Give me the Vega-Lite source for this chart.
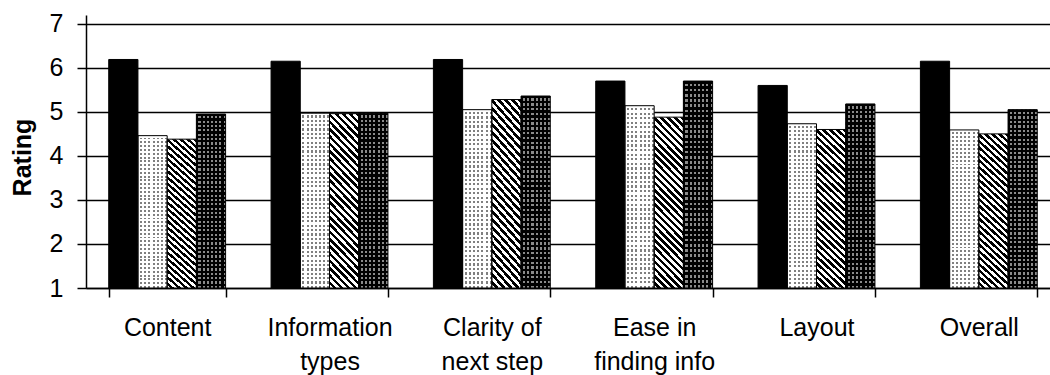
{
  "$schema": "https://vega.github.io/schema/vega-lite/v6.json",
  "autosize": {"type": "none"},
  "padding": {"left": 86, "top": 15, "right": 0, "bottom": 87},
  "width": 964,
  "height": 273,
  "background": "white",
  "config": {"view": {"stroke": null}, "font": "Liberation Sans"},
  "data": {
    "values": [
      {"category": "Content", "series": "Series 1", "rating": 6.19},
      {"category": "Content", "series": "Series 2", "rating": 4.46},
      {"category": "Content", "series": "Series 3", "rating": 4.38},
      {"category": "Content", "series": "Series 4", "rating": 4.95},
      {"category": "Information types", "series": "Series 1", "rating": 6.15},
      {"category": "Information types", "series": "Series 2", "rating": 4.97},
      {"category": "Information types", "series": "Series 3", "rating": 4.96},
      {"category": "Information types", "series": "Series 4", "rating": 4.97},
      {"category": "Clarity of next step", "series": "Series 1", "rating": 6.19},
      {"category": "Clarity of next step", "series": "Series 2", "rating": 5.05},
      {"category": "Clarity of next step", "series": "Series 3", "rating": 5.28},
      {"category": "Clarity of next step", "series": "Series 4", "rating": 5.36},
      {"category": "Ease in finding info", "series": "Series 1", "rating": 5.7},
      {"category": "Ease in finding info", "series": "Series 2", "rating": 5.14},
      {"category": "Ease in finding info", "series": "Series 3", "rating": 4.88},
      {"category": "Ease in finding info", "series": "Series 4", "rating": 5.7},
      {"category": "Layout", "series": "Series 1", "rating": 5.6},
      {"category": "Layout", "series": "Series 2", "rating": 4.73},
      {"category": "Layout", "series": "Series 3", "rating": 4.6},
      {"category": "Layout", "series": "Series 4", "rating": 5.18},
      {"category": "Overall", "series": "Series 1", "rating": 6.15},
      {"category": "Overall", "series": "Series 2", "rating": 4.59},
      {"category": "Overall", "series": "Series 3", "rating": 4.5},
      {"category": "Overall", "series": "Series 4", "rating": 5.05}
    ]
  },
  "encoding": {
    "x": {
      "field": "category",
      "type": "nominal",
      "sort": null,
      "scale": {"range": [0, 974], "paddingInner": 0.28, "paddingOuter": 0.14},
      "axis": {
        "title": null,
        "tickBand": "extent",
        "labelAngle": 0,
        "labelFontSize": 25,
        "labelLineHeight": 34,
        "labelPadding": 18,
        "labelColor": "#000",
        "labelExpr": "datum.value == 'Information types' ? ['Information', 'types'] : datum.value == 'Clarity of next step' ? ['Clarity of', 'next step'] : datum.value == 'Ease in finding info' ? ['Ease in', 'finding info'] : datum.value",
        "tickSize": 9,
        "tickWidth": 1.5,
        "tickColor": "#000",
        "domainColor": "#000",
        "domainWidth": 1.5,
        "grid": false
      }
    },
    "xOffset": {
      "field": "series",
      "type": "nominal",
      "sort": null,
      "scale": {"paddingInner": 0, "paddingOuter": 0}
    },
    "y": {
      "field": "rating",
      "type": "quantitative",
      "scale": {"domain": [1, 7.2], "zero": false, "nice": false},
      "axis": {
        "title": "Rating",
        "values": [1, 2, 3, 4, 5, 6, 7],
        "grid": true,
        "gridColor": "#000",
        "gridWidth": 1.5,
        "domainColor": "#000",
        "domainWidth": 1.5,
        "tickColor": "#000",
        "tickSize": 9,
        "tickWidth": 1.5,
        "labelFontSize": 25,
        "labelColor": "#000",
        "labelPadding": 14,
        "titleFontSize": 25,
        "titleFontWeight": "bold",
        "titleColor": "#000",
        "titlePadding": 14,
        "titleY": 142
      }
    },
    "y2": {"datum": 1}
  },
  "layer": [
    {
      "mark": {"type": "bar", "strokeWidth": 0},
      "encoding": {
        "fill": {
          "condition": [
            {"test": "datum.series == 'Series 1'", "value": "#000000"},
            {"test": "datum.series == 'Series 2'", "value": "#808080"},
            {"test": "datum.series == 'Series 3'", "value": {
              "gradient": "linear", "x1": 1, "y1": 0, "x2": 0.8009, "y2": 1.1399,
              "stops": [
                {"offset": 0.0000, "color": "#000"}, {"offset": 0.0179, "color": "#000"}, {"offset": 0.0179, "color": "#fff"}, {"offset": 0.0357, "color": "#fff"},
                {"offset": 0.0357, "color": "#000"}, {"offset": 0.0536, "color": "#000"}, {"offset": 0.0536, "color": "#fff"}, {"offset": 0.0714, "color": "#fff"},
                {"offset": 0.0714, "color": "#000"}, {"offset": 0.0893, "color": "#000"}, {"offset": 0.0893, "color": "#fff"}, {"offset": 0.1071, "color": "#fff"},
                {"offset": 0.1071, "color": "#000"}, {"offset": 0.1250, "color": "#000"}, {"offset": 0.1250, "color": "#fff"}, {"offset": 0.1429, "color": "#fff"},
                {"offset": 0.1429, "color": "#000"}, {"offset": 0.1607, "color": "#000"}, {"offset": 0.1607, "color": "#fff"}, {"offset": 0.1786, "color": "#fff"},
                {"offset": 0.1786, "color": "#000"}, {"offset": 0.1964, "color": "#000"}, {"offset": 0.1964, "color": "#fff"}, {"offset": 0.2143, "color": "#fff"},
                {"offset": 0.2143, "color": "#000"}, {"offset": 0.2321, "color": "#000"}, {"offset": 0.2321, "color": "#fff"}, {"offset": 0.2500, "color": "#fff"},
                {"offset": 0.2500, "color": "#000"}, {"offset": 0.2679, "color": "#000"}, {"offset": 0.2679, "color": "#fff"}, {"offset": 0.2857, "color": "#fff"},
                {"offset": 0.2857, "color": "#000"}, {"offset": 0.3036, "color": "#000"}, {"offset": 0.3036, "color": "#fff"}, {"offset": 0.3214, "color": "#fff"},
                {"offset": 0.3214, "color": "#000"}, {"offset": 0.3393, "color": "#000"}, {"offset": 0.3393, "color": "#fff"}, {"offset": 0.3571, "color": "#fff"},
                {"offset": 0.3571, "color": "#000"}, {"offset": 0.3750, "color": "#000"}, {"offset": 0.3750, "color": "#fff"}, {"offset": 0.3929, "color": "#fff"},
                {"offset": 0.3929, "color": "#000"}, {"offset": 0.4107, "color": "#000"}, {"offset": 0.4107, "color": "#fff"}, {"offset": 0.4286, "color": "#fff"},
                {"offset": 0.4286, "color": "#000"}, {"offset": 0.4464, "color": "#000"}, {"offset": 0.4464, "color": "#fff"}, {"offset": 0.4643, "color": "#fff"},
                {"offset": 0.4643, "color": "#000"}, {"offset": 0.4821, "color": "#000"}, {"offset": 0.4821, "color": "#fff"}, {"offset": 0.5000, "color": "#fff"},
                {"offset": 0.5000, "color": "#000"}, {"offset": 0.5179, "color": "#000"}, {"offset": 0.5179, "color": "#fff"}, {"offset": 0.5357, "color": "#fff"},
                {"offset": 0.5357, "color": "#000"}, {"offset": 0.5536, "color": "#000"}, {"offset": 0.5536, "color": "#fff"}, {"offset": 0.5714, "color": "#fff"},
                {"offset": 0.5714, "color": "#000"}, {"offset": 0.5893, "color": "#000"}, {"offset": 0.5893, "color": "#fff"}, {"offset": 0.6071, "color": "#fff"},
                {"offset": 0.6071, "color": "#000"}, {"offset": 0.6250, "color": "#000"}, {"offset": 0.6250, "color": "#fff"}, {"offset": 0.6429, "color": "#fff"},
                {"offset": 0.6429, "color": "#000"}, {"offset": 0.6607, "color": "#000"}, {"offset": 0.6607, "color": "#fff"}, {"offset": 0.6786, "color": "#fff"},
                {"offset": 0.6786, "color": "#000"}, {"offset": 0.6964, "color": "#000"}, {"offset": 0.6964, "color": "#fff"}, {"offset": 0.7143, "color": "#fff"},
                {"offset": 0.7143, "color": "#000"}, {"offset": 0.7321, "color": "#000"}, {"offset": 0.7321, "color": "#fff"}, {"offset": 0.7500, "color": "#fff"},
                {"offset": 0.7500, "color": "#000"}, {"offset": 0.7679, "color": "#000"}, {"offset": 0.7679, "color": "#fff"}, {"offset": 0.7857, "color": "#fff"},
                {"offset": 0.7857, "color": "#000"}, {"offset": 0.8036, "color": "#000"}, {"offset": 0.8036, "color": "#fff"}, {"offset": 0.8214, "color": "#fff"},
                {"offset": 0.8214, "color": "#000"}, {"offset": 0.8393, "color": "#000"}, {"offset": 0.8393, "color": "#fff"}, {"offset": 0.8571, "color": "#fff"},
                {"offset": 0.8571, "color": "#000"}, {"offset": 0.8750, "color": "#000"}, {"offset": 0.8750, "color": "#fff"}, {"offset": 0.8929, "color": "#fff"},
                {"offset": 0.8929, "color": "#000"}, {"offset": 0.9107, "color": "#000"}, {"offset": 0.9107, "color": "#fff"}, {"offset": 0.9286, "color": "#fff"},
                {"offset": 0.9286, "color": "#000"}, {"offset": 0.9464, "color": "#000"}, {"offset": 0.9464, "color": "#fff"}, {"offset": 0.9643, "color": "#fff"},
                {"offset": 0.9643, "color": "#000"}, {"offset": 0.9821, "color": "#000"}, {"offset": 0.9821, "color": "#fff"}, {"offset": 1.0000, "color": "#fff"}
              ]
            }},
            {"test": "datum.series == 'Series 4'", "value": "#8a8a8a"}
          ],
          "value": "#000000"
        }
      }
    },
    {
      "transform": [{"filter": "datum.series == 'Series 2' || datum.series == 'Series 4'"}],
      "mark": {"type": "bar", "strokeWidth": 0},
      "encoding": {
        "fill": {
          "condition": {"test": "datum.series == 'Series 2'", "value": {
            "gradient": "linear", "x1": 0, "y1": 0, "x2": 0, "y2": 1,
            "stops": [
              {"offset": 0.0000, "color": "#fff"}, {"offset": 0.0125, "color": "#fff"}, {"offset": 0.0125, "color": "rgba(255,255,255,0)"}, {"offset": 0.0250, "color": "rgba(255,255,255,0)"},
              {"offset": 0.0250, "color": "#fff"}, {"offset": 0.0375, "color": "#fff"}, {"offset": 0.0375, "color": "rgba(255,255,255,0)"}, {"offset": 0.0500, "color": "rgba(255,255,255,0)"},
              {"offset": 0.0500, "color": "#fff"}, {"offset": 0.0625, "color": "#fff"}, {"offset": 0.0625, "color": "rgba(255,255,255,0)"}, {"offset": 0.0750, "color": "rgba(255,255,255,0)"},
              {"offset": 0.0750, "color": "#fff"}, {"offset": 0.0875, "color": "#fff"}, {"offset": 0.0875, "color": "rgba(255,255,255,0)"}, {"offset": 0.1000, "color": "rgba(255,255,255,0)"},
              {"offset": 0.1000, "color": "#fff"}, {"offset": 0.1125, "color": "#fff"}, {"offset": 0.1125, "color": "rgba(255,255,255,0)"}, {"offset": 0.1250, "color": "rgba(255,255,255,0)"},
              {"offset": 0.1250, "color": "#fff"}, {"offset": 0.1375, "color": "#fff"}, {"offset": 0.1375, "color": "rgba(255,255,255,0)"}, {"offset": 0.1500, "color": "rgba(255,255,255,0)"},
              {"offset": 0.1500, "color": "#fff"}, {"offset": 0.1625, "color": "#fff"}, {"offset": 0.1625, "color": "rgba(255,255,255,0)"}, {"offset": 0.1750, "color": "rgba(255,255,255,0)"},
              {"offset": 0.1750, "color": "#fff"}, {"offset": 0.1875, "color": "#fff"}, {"offset": 0.1875, "color": "rgba(255,255,255,0)"}, {"offset": 0.2000, "color": "rgba(255,255,255,0)"},
              {"offset": 0.2000, "color": "#fff"}, {"offset": 0.2125, "color": "#fff"}, {"offset": 0.2125, "color": "rgba(255,255,255,0)"}, {"offset": 0.2250, "color": "rgba(255,255,255,0)"},
              {"offset": 0.2250, "color": "#fff"}, {"offset": 0.2375, "color": "#fff"}, {"offset": 0.2375, "color": "rgba(255,255,255,0)"}, {"offset": 0.2500, "color": "rgba(255,255,255,0)"},
              {"offset": 0.2500, "color": "#fff"}, {"offset": 0.2625, "color": "#fff"}, {"offset": 0.2625, "color": "rgba(255,255,255,0)"}, {"offset": 0.2750, "color": "rgba(255,255,255,0)"},
              {"offset": 0.2750, "color": "#fff"}, {"offset": 0.2875, "color": "#fff"}, {"offset": 0.2875, "color": "rgba(255,255,255,0)"}, {"offset": 0.3000, "color": "rgba(255,255,255,0)"},
              {"offset": 0.3000, "color": "#fff"}, {"offset": 0.3125, "color": "#fff"}, {"offset": 0.3125, "color": "rgba(255,255,255,0)"}, {"offset": 0.3250, "color": "rgba(255,255,255,0)"},
              {"offset": 0.3250, "color": "#fff"}, {"offset": 0.3375, "color": "#fff"}, {"offset": 0.3375, "color": "rgba(255,255,255,0)"}, {"offset": 0.3500, "color": "rgba(255,255,255,0)"},
              {"offset": 0.3500, "color": "#fff"}, {"offset": 0.3625, "color": "#fff"}, {"offset": 0.3625, "color": "rgba(255,255,255,0)"}, {"offset": 0.3750, "color": "rgba(255,255,255,0)"},
              {"offset": 0.3750, "color": "#fff"}, {"offset": 0.3875, "color": "#fff"}, {"offset": 0.3875, "color": "rgba(255,255,255,0)"}, {"offset": 0.4000, "color": "rgba(255,255,255,0)"},
              {"offset": 0.4000, "color": "#fff"}, {"offset": 0.4125, "color": "#fff"}, {"offset": 0.4125, "color": "rgba(255,255,255,0)"}, {"offset": 0.4250, "color": "rgba(255,255,255,0)"},
              {"offset": 0.4250, "color": "#fff"}, {"offset": 0.4375, "color": "#fff"}, {"offset": 0.4375, "color": "rgba(255,255,255,0)"}, {"offset": 0.4500, "color": "rgba(255,255,255,0)"},
              {"offset": 0.4500, "color": "#fff"}, {"offset": 0.4625, "color": "#fff"}, {"offset": 0.4625, "color": "rgba(255,255,255,0)"}, {"offset": 0.4750, "color": "rgba(255,255,255,0)"},
              {"offset": 0.4750, "color": "#fff"}, {"offset": 0.4875, "color": "#fff"}, {"offset": 0.4875, "color": "rgba(255,255,255,0)"}, {"offset": 0.5000, "color": "rgba(255,255,255,0)"},
              {"offset": 0.5000, "color": "#fff"}, {"offset": 0.5125, "color": "#fff"}, {"offset": 0.5125, "color": "rgba(255,255,255,0)"}, {"offset": 0.5250, "color": "rgba(255,255,255,0)"},
              {"offset": 0.5250, "color": "#fff"}, {"offset": 0.5375, "color": "#fff"}, {"offset": 0.5375, "color": "rgba(255,255,255,0)"}, {"offset": 0.5500, "color": "rgba(255,255,255,0)"},
              {"offset": 0.5500, "color": "#fff"}, {"offset": 0.5625, "color": "#fff"}, {"offset": 0.5625, "color": "rgba(255,255,255,0)"}, {"offset": 0.5750, "color": "rgba(255,255,255,0)"},
              {"offset": 0.5750, "color": "#fff"}, {"offset": 0.5875, "color": "#fff"}, {"offset": 0.5875, "color": "rgba(255,255,255,0)"}, {"offset": 0.6000, "color": "rgba(255,255,255,0)"},
              {"offset": 0.6000, "color": "#fff"}, {"offset": 0.6125, "color": "#fff"}, {"offset": 0.6125, "color": "rgba(255,255,255,0)"}, {"offset": 0.6250, "color": "rgba(255,255,255,0)"},
              {"offset": 0.6250, "color": "#fff"}, {"offset": 0.6375, "color": "#fff"}, {"offset": 0.6375, "color": "rgba(255,255,255,0)"}, {"offset": 0.6500, "color": "rgba(255,255,255,0)"},
              {"offset": 0.6500, "color": "#fff"}, {"offset": 0.6625, "color": "#fff"}, {"offset": 0.6625, "color": "rgba(255,255,255,0)"}, {"offset": 0.6750, "color": "rgba(255,255,255,0)"},
              {"offset": 0.6750, "color": "#fff"}, {"offset": 0.6875, "color": "#fff"}, {"offset": 0.6875, "color": "rgba(255,255,255,0)"}, {"offset": 0.7000, "color": "rgba(255,255,255,0)"},
              {"offset": 0.7000, "color": "#fff"}, {"offset": 0.7125, "color": "#fff"}, {"offset": 0.7125, "color": "rgba(255,255,255,0)"}, {"offset": 0.7250, "color": "rgba(255,255,255,0)"},
              {"offset": 0.7250, "color": "#fff"}, {"offset": 0.7375, "color": "#fff"}, {"offset": 0.7375, "color": "rgba(255,255,255,0)"}, {"offset": 0.7500, "color": "rgba(255,255,255,0)"},
              {"offset": 0.7500, "color": "#fff"}, {"offset": 0.7625, "color": "#fff"}, {"offset": 0.7625, "color": "rgba(255,255,255,0)"}, {"offset": 0.7750, "color": "rgba(255,255,255,0)"},
              {"offset": 0.7750, "color": "#fff"}, {"offset": 0.7875, "color": "#fff"}, {"offset": 0.7875, "color": "rgba(255,255,255,0)"}, {"offset": 0.8000, "color": "rgba(255,255,255,0)"},
              {"offset": 0.8000, "color": "#fff"}, {"offset": 0.8125, "color": "#fff"}, {"offset": 0.8125, "color": "rgba(255,255,255,0)"}, {"offset": 0.8250, "color": "rgba(255,255,255,0)"},
              {"offset": 0.8250, "color": "#fff"}, {"offset": 0.8375, "color": "#fff"}, {"offset": 0.8375, "color": "rgba(255,255,255,0)"}, {"offset": 0.8500, "color": "rgba(255,255,255,0)"},
              {"offset": 0.8500, "color": "#fff"}, {"offset": 0.8625, "color": "#fff"}, {"offset": 0.8625, "color": "rgba(255,255,255,0)"}, {"offset": 0.8750, "color": "rgba(255,255,255,0)"},
              {"offset": 0.8750, "color": "#fff"}, {"offset": 0.8875, "color": "#fff"}, {"offset": 0.8875, "color": "rgba(255,255,255,0)"}, {"offset": 0.9000, "color": "rgba(255,255,255,0)"},
              {"offset": 0.9000, "color": "#fff"}, {"offset": 0.9125, "color": "#fff"}, {"offset": 0.9125, "color": "rgba(255,255,255,0)"}, {"offset": 0.9250, "color": "rgba(255,255,255,0)"},
              {"offset": 0.9250, "color": "#fff"}, {"offset": 0.9375, "color": "#fff"}, {"offset": 0.9375, "color": "rgba(255,255,255,0)"}, {"offset": 0.9500, "color": "rgba(255,255,255,0)"},
              {"offset": 0.9500, "color": "#fff"}, {"offset": 0.9625, "color": "#fff"}, {"offset": 0.9625, "color": "rgba(255,255,255,0)"}, {"offset": 0.9750, "color": "rgba(255,255,255,0)"},
              {"offset": 0.9750, "color": "#fff"}, {"offset": 0.9875, "color": "#fff"}, {"offset": 0.9875, "color": "rgba(255,255,255,0)"}, {"offset": 1.0000, "color": "rgba(255,255,255,0)"}
            ]
          }},
          "value": {
            "gradient": "linear", "x1": 0, "y1": 0, "x2": 0, "y2": 1,
            "stops": [
              {"offset": 0.0000, "color": "#000"}, {"offset": 0.0125, "color": "#000"}, {"offset": 0.0125, "color": "rgba(0,0,0,0)"}, {"offset": 0.0250, "color": "rgba(0,0,0,0)"},
              {"offset": 0.0250, "color": "#000"}, {"offset": 0.0375, "color": "#000"}, {"offset": 0.0375, "color": "rgba(0,0,0,0)"}, {"offset": 0.0500, "color": "rgba(0,0,0,0)"},
              {"offset": 0.0500, "color": "#000"}, {"offset": 0.0625, "color": "#000"}, {"offset": 0.0625, "color": "rgba(0,0,0,0)"}, {"offset": 0.0750, "color": "rgba(0,0,0,0)"},
              {"offset": 0.0750, "color": "#000"}, {"offset": 0.0875, "color": "#000"}, {"offset": 0.0875, "color": "rgba(0,0,0,0)"}, {"offset": 0.1000, "color": "rgba(0,0,0,0)"},
              {"offset": 0.1000, "color": "#000"}, {"offset": 0.1125, "color": "#000"}, {"offset": 0.1125, "color": "rgba(0,0,0,0)"}, {"offset": 0.1250, "color": "rgba(0,0,0,0)"},
              {"offset": 0.1250, "color": "#000"}, {"offset": 0.1375, "color": "#000"}, {"offset": 0.1375, "color": "rgba(0,0,0,0)"}, {"offset": 0.1500, "color": "rgba(0,0,0,0)"},
              {"offset": 0.1500, "color": "#000"}, {"offset": 0.1625, "color": "#000"}, {"offset": 0.1625, "color": "rgba(0,0,0,0)"}, {"offset": 0.1750, "color": "rgba(0,0,0,0)"},
              {"offset": 0.1750, "color": "#000"}, {"offset": 0.1875, "color": "#000"}, {"offset": 0.1875, "color": "rgba(0,0,0,0)"}, {"offset": 0.2000, "color": "rgba(0,0,0,0)"},
              {"offset": 0.2000, "color": "#000"}, {"offset": 0.2125, "color": "#000"}, {"offset": 0.2125, "color": "rgba(0,0,0,0)"}, {"offset": 0.2250, "color": "rgba(0,0,0,0)"},
              {"offset": 0.2250, "color": "#000"}, {"offset": 0.2375, "color": "#000"}, {"offset": 0.2375, "color": "rgba(0,0,0,0)"}, {"offset": 0.2500, "color": "rgba(0,0,0,0)"},
              {"offset": 0.2500, "color": "#000"}, {"offset": 0.2625, "color": "#000"}, {"offset": 0.2625, "color": "rgba(0,0,0,0)"}, {"offset": 0.2750, "color": "rgba(0,0,0,0)"},
              {"offset": 0.2750, "color": "#000"}, {"offset": 0.2875, "color": "#000"}, {"offset": 0.2875, "color": "rgba(0,0,0,0)"}, {"offset": 0.3000, "color": "rgba(0,0,0,0)"},
              {"offset": 0.3000, "color": "#000"}, {"offset": 0.3125, "color": "#000"}, {"offset": 0.3125, "color": "rgba(0,0,0,0)"}, {"offset": 0.3250, "color": "rgba(0,0,0,0)"},
              {"offset": 0.3250, "color": "#000"}, {"offset": 0.3375, "color": "#000"}, {"offset": 0.3375, "color": "rgba(0,0,0,0)"}, {"offset": 0.3500, "color": "rgba(0,0,0,0)"},
              {"offset": 0.3500, "color": "#000"}, {"offset": 0.3625, "color": "#000"}, {"offset": 0.3625, "color": "rgba(0,0,0,0)"}, {"offset": 0.3750, "color": "rgba(0,0,0,0)"},
              {"offset": 0.3750, "color": "#000"}, {"offset": 0.3875, "color": "#000"}, {"offset": 0.3875, "color": "rgba(0,0,0,0)"}, {"offset": 0.4000, "color": "rgba(0,0,0,0)"},
              {"offset": 0.4000, "color": "#000"}, {"offset": 0.4125, "color": "#000"}, {"offset": 0.4125, "color": "rgba(0,0,0,0)"}, {"offset": 0.4250, "color": "rgba(0,0,0,0)"},
              {"offset": 0.4250, "color": "#000"}, {"offset": 0.4375, "color": "#000"}, {"offset": 0.4375, "color": "rgba(0,0,0,0)"}, {"offset": 0.4500, "color": "rgba(0,0,0,0)"},
              {"offset": 0.4500, "color": "#000"}, {"offset": 0.4625, "color": "#000"}, {"offset": 0.4625, "color": "rgba(0,0,0,0)"}, {"offset": 0.4750, "color": "rgba(0,0,0,0)"},
              {"offset": 0.4750, "color": "#000"}, {"offset": 0.4875, "color": "#000"}, {"offset": 0.4875, "color": "rgba(0,0,0,0)"}, {"offset": 0.5000, "color": "rgba(0,0,0,0)"},
              {"offset": 0.5000, "color": "#000"}, {"offset": 0.5125, "color": "#000"}, {"offset": 0.5125, "color": "rgba(0,0,0,0)"}, {"offset": 0.5250, "color": "rgba(0,0,0,0)"},
              {"offset": 0.5250, "color": "#000"}, {"offset": 0.5375, "color": "#000"}, {"offset": 0.5375, "color": "rgba(0,0,0,0)"}, {"offset": 0.5500, "color": "rgba(0,0,0,0)"},
              {"offset": 0.5500, "color": "#000"}, {"offset": 0.5625, "color": "#000"}, {"offset": 0.5625, "color": "rgba(0,0,0,0)"}, {"offset": 0.5750, "color": "rgba(0,0,0,0)"},
              {"offset": 0.5750, "color": "#000"}, {"offset": 0.5875, "color": "#000"}, {"offset": 0.5875, "color": "rgba(0,0,0,0)"}, {"offset": 0.6000, "color": "rgba(0,0,0,0)"},
              {"offset": 0.6000, "color": "#000"}, {"offset": 0.6125, "color": "#000"}, {"offset": 0.6125, "color": "rgba(0,0,0,0)"}, {"offset": 0.6250, "color": "rgba(0,0,0,0)"},
              {"offset": 0.6250, "color": "#000"}, {"offset": 0.6375, "color": "#000"}, {"offset": 0.6375, "color": "rgba(0,0,0,0)"}, {"offset": 0.6500, "color": "rgba(0,0,0,0)"},
              {"offset": 0.6500, "color": "#000"}, {"offset": 0.6625, "color": "#000"}, {"offset": 0.6625, "color": "rgba(0,0,0,0)"}, {"offset": 0.6750, "color": "rgba(0,0,0,0)"},
              {"offset": 0.6750, "color": "#000"}, {"offset": 0.6875, "color": "#000"}, {"offset": 0.6875, "color": "rgba(0,0,0,0)"}, {"offset": 0.7000, "color": "rgba(0,0,0,0)"},
              {"offset": 0.7000, "color": "#000"}, {"offset": 0.7125, "color": "#000"}, {"offset": 0.7125, "color": "rgba(0,0,0,0)"}, {"offset": 0.7250, "color": "rgba(0,0,0,0)"},
              {"offset": 0.7250, "color": "#000"}, {"offset": 0.7375, "color": "#000"}, {"offset": 0.7375, "color": "rgba(0,0,0,0)"}, {"offset": 0.7500, "color": "rgba(0,0,0,0)"},
              {"offset": 0.7500, "color": "#000"}, {"offset": 0.7625, "color": "#000"}, {"offset": 0.7625, "color": "rgba(0,0,0,0)"}, {"offset": 0.7750, "color": "rgba(0,0,0,0)"},
              {"offset": 0.7750, "color": "#000"}, {"offset": 0.7875, "color": "#000"}, {"offset": 0.7875, "color": "rgba(0,0,0,0)"}, {"offset": 0.8000, "color": "rgba(0,0,0,0)"},
              {"offset": 0.8000, "color": "#000"}, {"offset": 0.8125, "color": "#000"}, {"offset": 0.8125, "color": "rgba(0,0,0,0)"}, {"offset": 0.8250, "color": "rgba(0,0,0,0)"},
              {"offset": 0.8250, "color": "#000"}, {"offset": 0.8375, "color": "#000"}, {"offset": 0.8375, "color": "rgba(0,0,0,0)"}, {"offset": 0.8500, "color": "rgba(0,0,0,0)"},
              {"offset": 0.8500, "color": "#000"}, {"offset": 0.8625, "color": "#000"}, {"offset": 0.8625, "color": "rgba(0,0,0,0)"}, {"offset": 0.8750, "color": "rgba(0,0,0,0)"},
              {"offset": 0.8750, "color": "#000"}, {"offset": 0.8875, "color": "#000"}, {"offset": 0.8875, "color": "rgba(0,0,0,0)"}, {"offset": 0.9000, "color": "rgba(0,0,0,0)"},
              {"offset": 0.9000, "color": "#000"}, {"offset": 0.9125, "color": "#000"}, {"offset": 0.9125, "color": "rgba(0,0,0,0)"}, {"offset": 0.9250, "color": "rgba(0,0,0,0)"},
              {"offset": 0.9250, "color": "#000"}, {"offset": 0.9375, "color": "#000"}, {"offset": 0.9375, "color": "rgba(0,0,0,0)"}, {"offset": 0.9500, "color": "rgba(0,0,0,0)"},
              {"offset": 0.9500, "color": "#000"}, {"offset": 0.9625, "color": "#000"}, {"offset": 0.9625, "color": "rgba(0,0,0,0)"}, {"offset": 0.9750, "color": "rgba(0,0,0,0)"},
              {"offset": 0.9750, "color": "#000"}, {"offset": 0.9875, "color": "#000"}, {"offset": 0.9875, "color": "rgba(0,0,0,0)"}, {"offset": 1.0000, "color": "rgba(0,0,0,0)"}
            ]
          }
        }
      }
    },
    {
      "transform": [{"filter": "datum.series == 'Series 2' || datum.series == 'Series 4'"}],
      "mark": {"type": "bar", "strokeWidth": 0},
      "encoding": {
        "fill": {
          "condition": {"test": "datum.series == 'Series 2'", "value": {
            "gradient": "linear", "x1": 0, "y1": 0, "x2": 1, "y2": 0,
            "stops": [
              {"offset": 0.0000, "color": "#fff"}, {"offset": 0.0714, "color": "#fff"}, {"offset": 0.0714, "color": "rgba(255,255,255,0)"}, {"offset": 0.1429, "color": "rgba(255,255,255,0)"},
              {"offset": 0.1429, "color": "#fff"}, {"offset": 0.2143, "color": "#fff"}, {"offset": 0.2143, "color": "rgba(255,255,255,0)"}, {"offset": 0.2857, "color": "rgba(255,255,255,0)"},
              {"offset": 0.2857, "color": "#fff"}, {"offset": 0.3571, "color": "#fff"}, {"offset": 0.3571, "color": "rgba(255,255,255,0)"}, {"offset": 0.4286, "color": "rgba(255,255,255,0)"},
              {"offset": 0.4286, "color": "#fff"}, {"offset": 0.5000, "color": "#fff"}, {"offset": 0.5000, "color": "rgba(255,255,255,0)"}, {"offset": 0.5714, "color": "rgba(255,255,255,0)"},
              {"offset": 0.5714, "color": "#fff"}, {"offset": 0.6429, "color": "#fff"}, {"offset": 0.6429, "color": "rgba(255,255,255,0)"}, {"offset": 0.7143, "color": "rgba(255,255,255,0)"},
              {"offset": 0.7143, "color": "#fff"}, {"offset": 0.7857, "color": "#fff"}, {"offset": 0.7857, "color": "rgba(255,255,255,0)"}, {"offset": 0.8571, "color": "rgba(255,255,255,0)"},
              {"offset": 0.8571, "color": "#fff"}, {"offset": 0.9286, "color": "#fff"}, {"offset": 0.9286, "color": "rgba(255,255,255,0)"}, {"offset": 1.0000, "color": "rgba(255,255,255,0)"}
            ]
          }},
          "value": {
            "gradient": "linear", "x1": 0, "y1": 0, "x2": 1, "y2": 0,
            "stops": [
              {"offset": 0.0000, "color": "#000"}, {"offset": 0.0714, "color": "#000"}, {"offset": 0.0714, "color": "rgba(0,0,0,0)"}, {"offset": 0.1429, "color": "rgba(0,0,0,0)"},
              {"offset": 0.1429, "color": "#000"}, {"offset": 0.2143, "color": "#000"}, {"offset": 0.2143, "color": "rgba(0,0,0,0)"}, {"offset": 0.2857, "color": "rgba(0,0,0,0)"},
              {"offset": 0.2857, "color": "#000"}, {"offset": 0.3571, "color": "#000"}, {"offset": 0.3571, "color": "rgba(0,0,0,0)"}, {"offset": 0.4286, "color": "rgba(0,0,0,0)"},
              {"offset": 0.4286, "color": "#000"}, {"offset": 0.5000, "color": "#000"}, {"offset": 0.5000, "color": "rgba(0,0,0,0)"}, {"offset": 0.5714, "color": "rgba(0,0,0,0)"},
              {"offset": 0.5714, "color": "#000"}, {"offset": 0.6429, "color": "#000"}, {"offset": 0.6429, "color": "rgba(0,0,0,0)"}, {"offset": 0.7143, "color": "rgba(0,0,0,0)"},
              {"offset": 0.7143, "color": "#000"}, {"offset": 0.7857, "color": "#000"}, {"offset": 0.7857, "color": "rgba(0,0,0,0)"}, {"offset": 0.8571, "color": "rgba(0,0,0,0)"},
              {"offset": 0.8571, "color": "#000"}, {"offset": 0.9286, "color": "#000"}, {"offset": 0.9286, "color": "rgba(0,0,0,0)"}, {"offset": 1.0000, "color": "rgba(0,0,0,0)"}
            ]
          }
        }
      }
    },
    {
      "mark": {"type": "bar", "fillOpacity": 0, "stroke": "#000", "strokeWidth": 1}
    }
  ]
}
